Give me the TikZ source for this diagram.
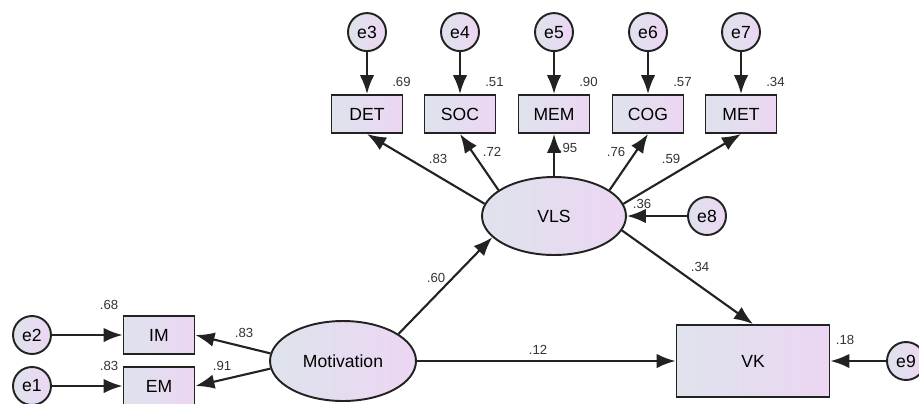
\documentclass[tikz,border=0pt]{standalone}
\usepackage{fontspec}
\setmainfont{Liberation Sans}
\usepackage{xcolor}
\usetikzlibrary{shapes.geometric, arrows.meta, positioning}
\definecolor{semleft}{HTML}{DEE3EC}
\definecolor{semright}{HTML}{ECD6F3}
\definecolor{semline}{HTML}{222222}

\begin{document}
\begin{tikzpicture}[x=0.02cm, y=-0.02cm, >={Latex[length=3.8mm,width=2.9mm]},
		obsbox/.style={rectangle, draw=semline, line width=1.1pt, left color=semleft, right color=semright, minimum width=1.42cm, minimum height=0.76cm, inner sep=0pt, font=\fontsize{10}{12}\selectfont},
		latent/.style={ellipse, draw=semline, line width=1.1pt, left color=semleft, right color=semright, inner sep=0pt, font=\fontsize{10}{12}\selectfont},
		errnode/.style={circle, draw=semline, line width=1.1pt, left color=semleft, right color=semright, minimum size=0.76cm, inner sep=0pt, font=\fontsize{10}{12}\selectfont},
		semarrow/.style={->, draw=semline, line width=1.2pt},
		coef/.style={inner sep=0pt, text=black!80, font=\fontsize{7.5}{9}\selectfont}]
		\useasboundingbox (0,0) rectangle (919,403);
		
		% --- Variables latentes ---
		\node[latent, minimum width=2.88cm, minimum height=1.56cm] (VLS) at (554,216) {VLS};
		\node[latent, minimum width=2.92cm, minimum height=1.6cm] (Motivation) at (343,361) {Motivation};
		
		% --- Indicateurs de VLS (en haut) ---
		\foreach \ind/\err/\x/\rsq in {DET/e3/367/.69, SOC/e4/460/.51, MEM/e5/554/.90, COG/e6/648/.57, MET/e7/741/.34} {
			\node[obsbox] (\ind) at (\x,114) {\ind};
			\node[errnode, above=0.84cm of \ind] (\err) {\err};
			\node[coef] (r\ind) at ([shift={(-2,-12)}]\ind.north east) {\rsq};
			\draw[semarrow] (\err) -- (\ind);
		}
		
		% --- Indicateurs de Motivation (a gauche) ---
		\node[obsbox] (IM) at (159,335) {IM};
		\node[obsbox] (EM) at (159,386) {EM};
		\node[errnode] (e2) at (32,335) {e2};
		\node[errnode] (e1) at (32,386) {e1};
		\node[coef] (rIM) at (109,305) {.68};
		\node[coef] (rEM) at (109,366) {.83};
		\draw[semarrow] (e2) -- (IM);
		\draw[semarrow] (e1) -- (EM);
		
		% --- Variable dependante ---
		\node[obsbox, minimum width=3.06cm, minimum height=1.44cm] (VK) at (753,361) {VK};
		\node[errnode] (e9) at (906,361) {e9};
		\node[errnode] (e8) at (707,216) {e8};
		\node[coef] (rVK) at (845,340) {.18};
		\node[coef] (rVLS) at (642,204) {.36};
		\draw[semarrow] (e9) -- (VK);
		\draw[semarrow] (e8) -- (VLS);
		
		% --- Saturations ---
		\foreach \ind/\ang in {DET/170, SOC/155, MEM/90, COG/25, MET/10} {
			\draw[semarrow] (VLS.\ang) -- (\ind.south);
		}
		\node[coef] (wDET) at (438,159) {.83};
		\node[coef] (wSOC) at (492,152) {.72};
		\node[coef] (wMEM) at (568,148) {.95};
		\node[coef] (wCOG) at (616,152) {.76};
		\node[coef] (wMET) at (671,159) {.59};
		
		\draw[semarrow] (Motivation.174) -- (IM.east);
		\draw[semarrow] (Motivation.186) -- (EM.east);
		\node[coef] (wIM) at (244,333) {.83};
		\node[coef] (wEM) at (222,366) {.91};
		
		% --- Chemins structurels ---
		\draw[semarrow] (Motivation.26) -- (VLS.199);
		\draw[semarrow] (VLS.348) -- (VK.north);
		\draw[semarrow] (Motivation) -- (VK);
		\node[coef] (pMV) at (436,278) {.60};
		\node[coef] (pVK) at (700,267) {.34};
		\node[coef] (pMK) at (538,350) {.12};
		
	\end{tikzpicture}
\end{document}
